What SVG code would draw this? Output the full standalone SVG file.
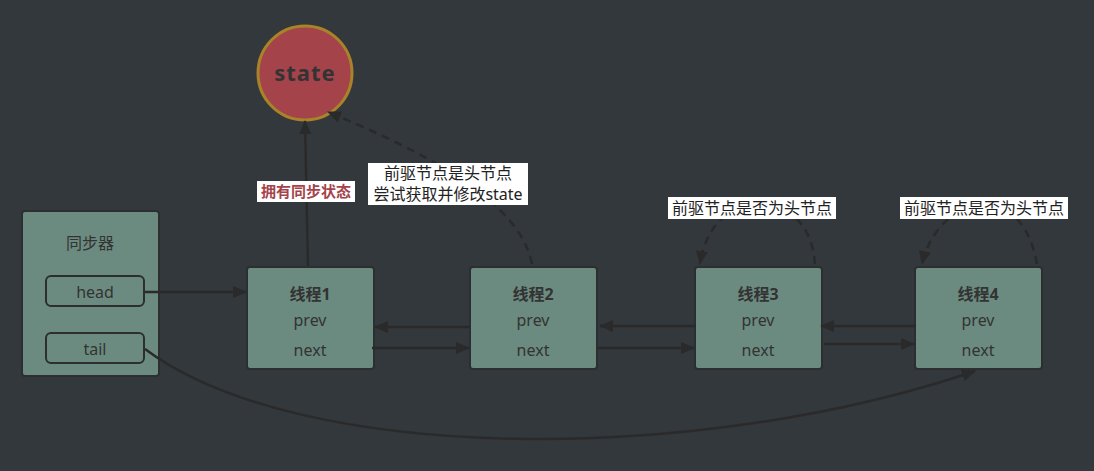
<svg xmlns="http://www.w3.org/2000/svg" width="1094" height="471" viewBox="0 0 1094 471">
<style>
.bg{fill:#33383d}
.node{fill:#6b8b80;stroke:#2c2e30;stroke-width:2}
.t{font-family:"Noto Sans","Noto Sans CJK SC",sans-serif;fill:#333;text-anchor:middle}
.title{font-size:16px;font-weight:bold}
.f{font-size:16px}
.lbl{font-family:"Noto Sans","Noto Sans CJK SC",sans-serif;font-size:16px;fill:#222;text-anchor:middle}
.lb{fill:#fff}
.c{stroke:#2a2a2a;stroke-width:2.5;fill:none}
.d{stroke:#2a2a2a;stroke-width:2.5;fill:none;stroke-dasharray:8 6}
</style>
<defs>
<marker id="ah2" markerWidth="14" markerHeight="12" refX="13" refY="6" orient="auto" markerUnits="userSpaceOnUse" viewBox="0 0 14 12">
<path d="M0,0 L14,6 L0,12 z" fill="#2a2a2a"/>
</marker>
</defs>
<rect class="bg" x="0" y="0" width="1094" height="471"/>

<g id="state">
<circle cx="305" cy="73" r="47" fill="#a5434b" stroke="#a88328" stroke-width="3"/>
<text class="t" x="305" y="81" font-size="22" font-weight="bold" letter-spacing="1">state</text>
</g>

<g id="sync">
<rect class="node" x="22" y="211" width="137" height="165" rx="3"/>
<text class="t f" x="90" y="249">同步器</text>
<rect class="node" x="46" y="276" width="98" height="30" rx="5"/>
<text class="t f" x="95" y="298">head</text>
<rect class="node" x="46" y="333" width="98" height="30" rx="5"/>
<text class="t f" x="95" y="355">tail</text>
</g>

<g id="thread1">
<rect class="node" x="247" y="267" width="127" height="102" rx="3"/>
<text class="t title" x="310" y="300">线程1</text>
<text class="t f" x="310" y="326">prev</text>
<text class="t f" x="310" y="356">next</text>
</g>
<g id="thread2">
<rect class="node" x="470" y="267" width="127" height="102" rx="3"/>
<text class="t title" x="533" y="300">线程2</text>
<text class="t f" x="533" y="326">prev</text>
<text class="t f" x="533" y="356">next</text>
</g>
<g id="thread3">
<rect class="node" x="695" y="267" width="127" height="102" rx="3"/>
<text class="t title" x="758" y="300">线程3</text>
<text class="t f" x="758" y="326">prev</text>
<text class="t f" x="758" y="356">next</text>
</g>
<g id="thread4">
<rect class="node" x="915" y="267" width="127" height="102" rx="3"/>
<text class="t title" x="978" y="300">线程4</text>
<text class="t f" x="978" y="326">prev</text>
<text class="t f" x="978" y="356">next</text>
</g>

<g id="connectors">
<line class="c" x1="145" y1="292" x2="246" y2="292" marker-end="url(#ah2)"/>
<line class="c" x1="308" y1="266" x2="305" y2="121" marker-end="url(#ah2)"/>
<path class="d" d="M532 264 C520 200 420 150 328 112" marker-end="url(#ah2)"/>
<line class="c" x1="470" y1="327" x2="375" y2="327" marker-end="url(#ah2)"/>
<line class="c" x1="372" y1="348" x2="469" y2="348" marker-end="url(#ah2)"/>
<line class="c" x1="696" y1="326" x2="600" y2="326" marker-end="url(#ah2)"/>
<line class="c" x1="597" y1="348" x2="694" y2="348" marker-end="url(#ah2)"/>
<line class="c" x1="916" y1="326" x2="821" y2="326" marker-end="url(#ah2)"/>
<line class="c" x1="824" y1="344" x2="914" y2="344" marker-end="url(#ah2)"/>
<path class="d" d="M815 264 C812 225 790 205 760 205 C725 205 705 230 700 264" marker-end="url(#ah2)"/>
<path class="d" d="M1037 264 C1030 225 1010 205 985 205 C955 205 930 230 922 264" marker-end="url(#ah2)"/>
<path class="c" stroke-width="2" d="M145 349 C300 465 700 465 975 371" marker-end="url(#ah2)"/>
</g>

<g id="labels">
<rect class="lb" x="257" y="181" width="98" height="21"/>
<text class="lbl" x="306" y="197" style="fill:#a5434b;font-weight:bold;font-size:15px">拥有同步状态</text>
<rect class="lb" x="368" y="163" width="160" height="42"/>
<text class="lbl" x="448" y="179">前驱节点是头节点</text>
<text class="lbl" x="448" y="200">尝试获取并修改state</text>
<rect class="lb" x="668" y="197" width="168" height="22"/>
<text class="lbl" x="752" y="214">前驱节点是否为头节点</text>
<rect class="lb" x="900" y="197" width="168" height="22"/>
<text class="lbl" x="984" y="214">前驱节点是否为头节点</text>
</g>
</svg>
